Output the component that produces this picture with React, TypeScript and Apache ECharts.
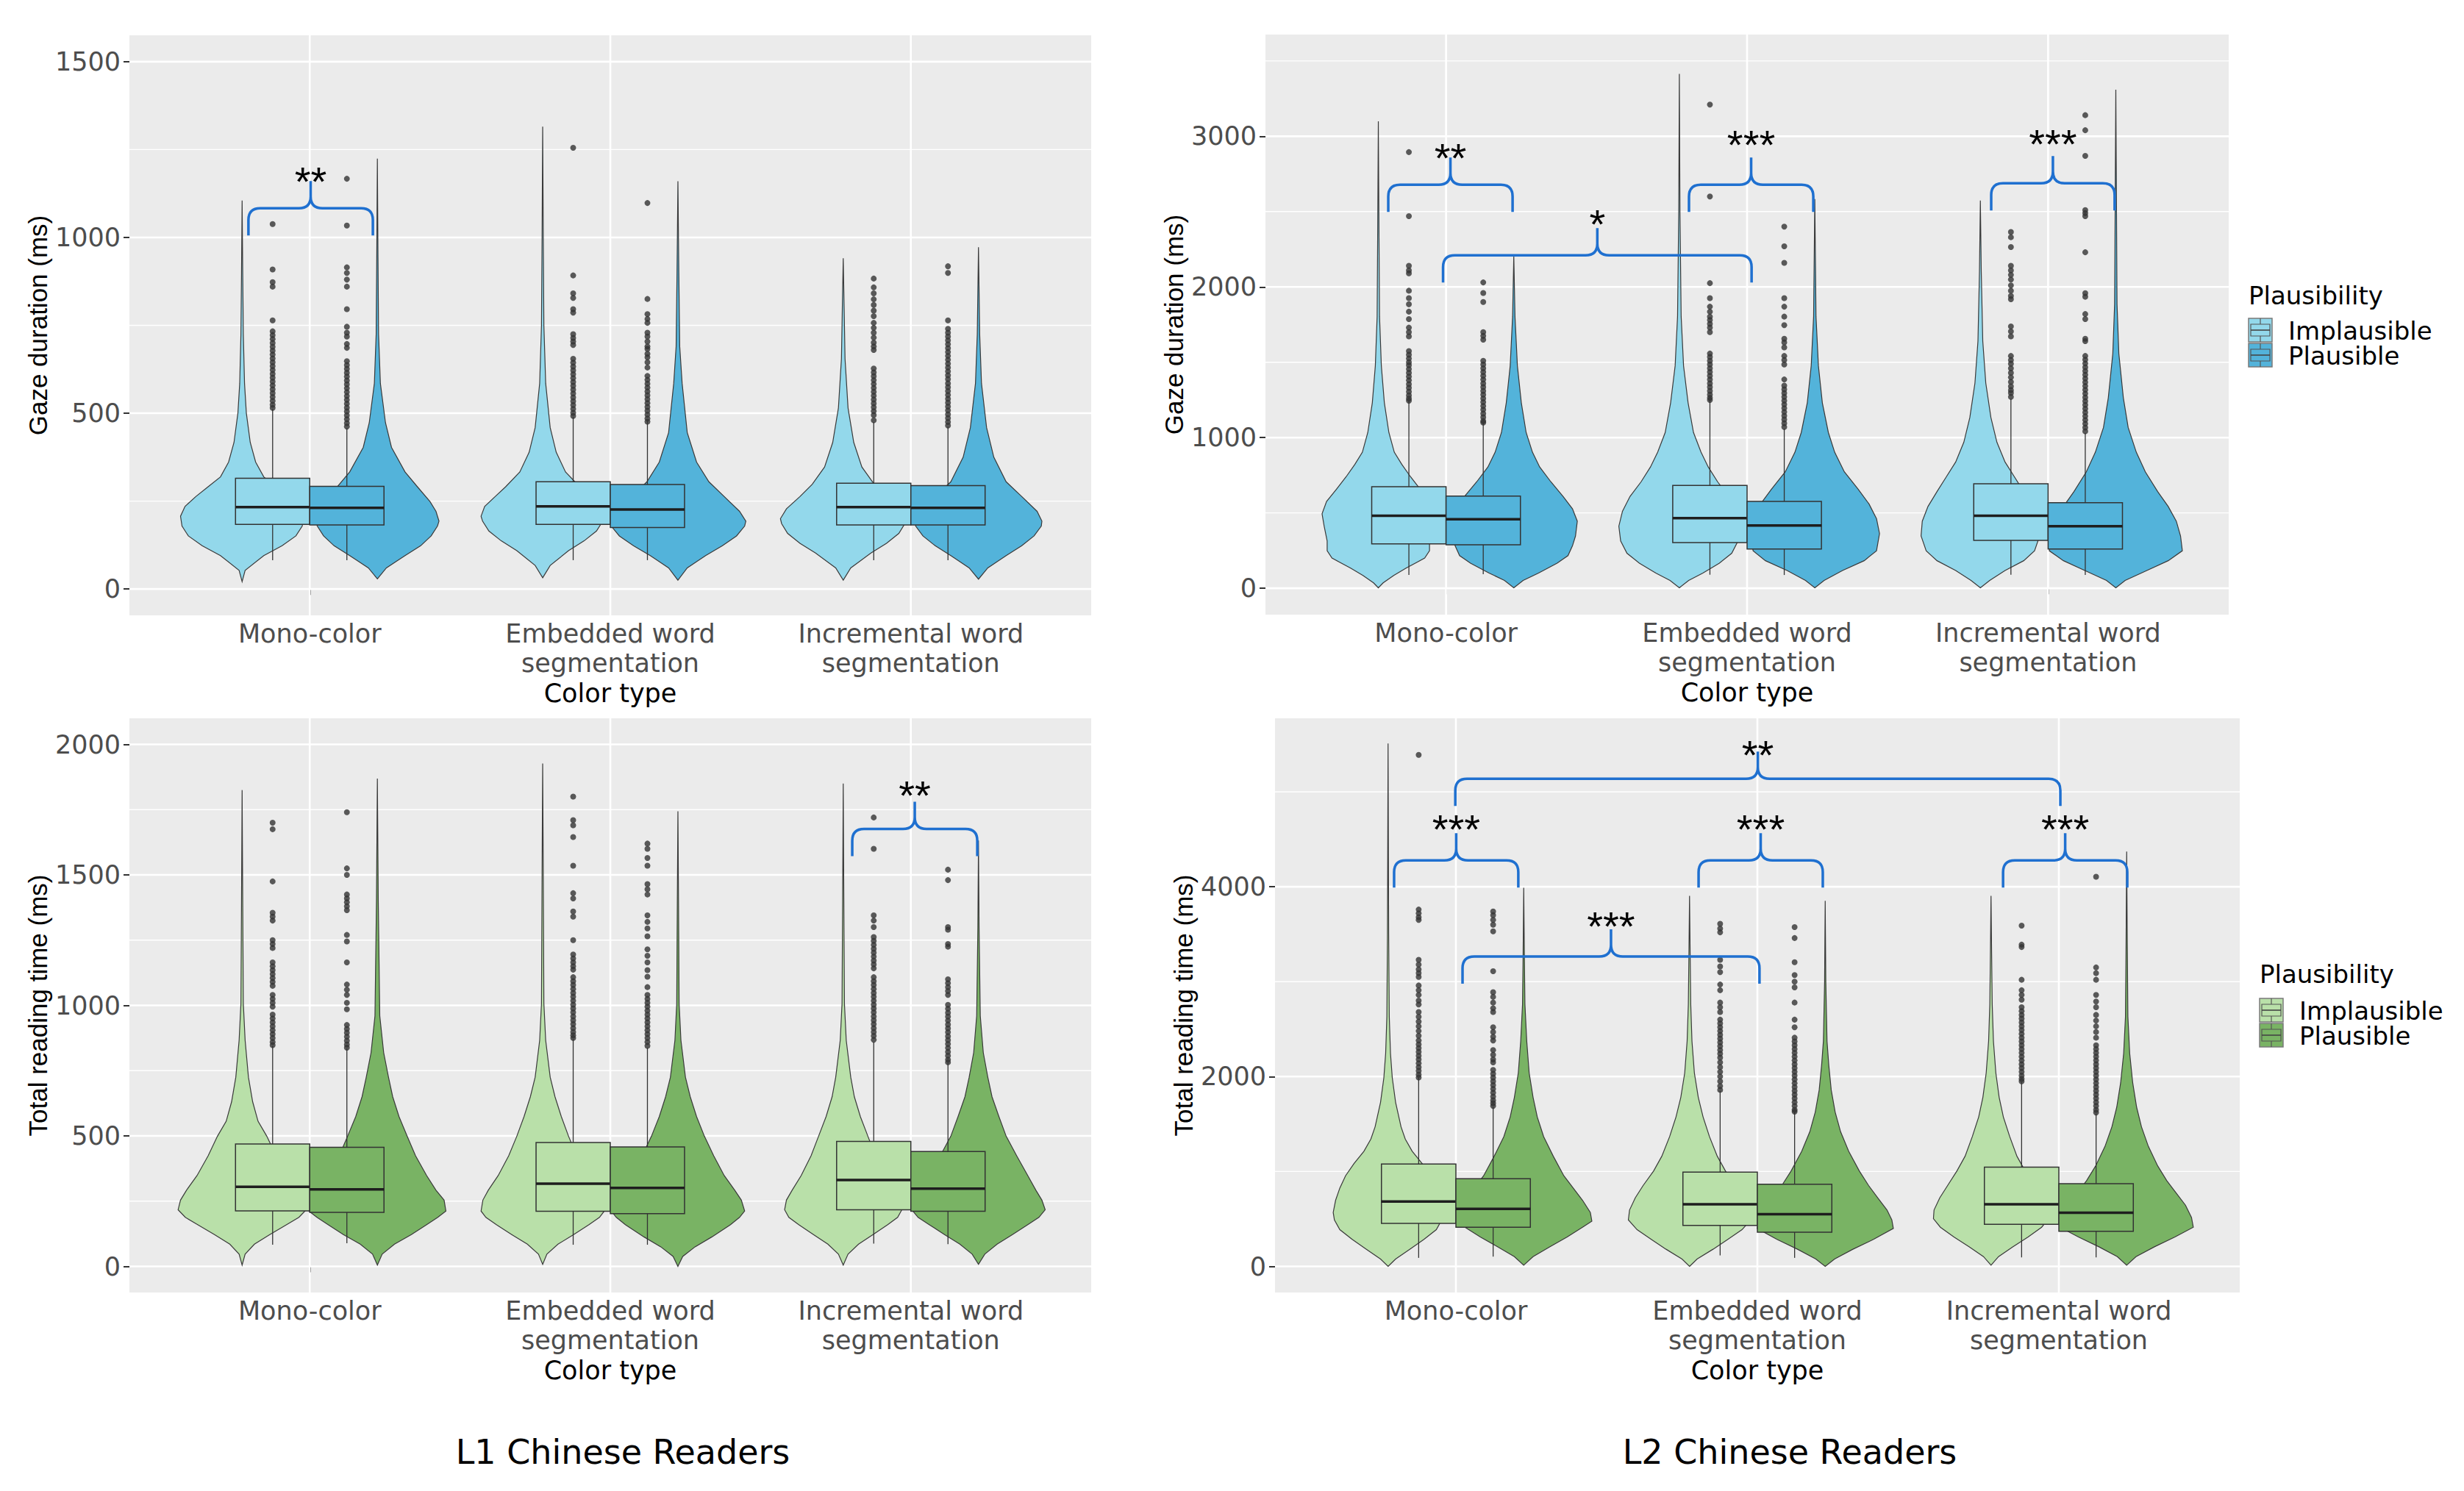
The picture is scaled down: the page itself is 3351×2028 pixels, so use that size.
import React, { useEffect, useRef } from "react";
import * as echarts from "echarts";

// ---------------- DATA ----------------
const categories = ["Mono-color", "Embedded word\nsegmentation", "Incremental word\nsegmentation"];
const plausibility = ["Implausible", "Plausible"];
const panelTitles = ["L1 Chinese Readers", "L2 Chinese Readers"];
const yTitles = ["Gaze duration (ms)", "Total reading time (ms)"];
const xTitle = "Color type";
const legendTitle = "Plausibility";

const tlTicks = [0, 500, 1000, 1500];
const tlMinor = [250, 750, 1250];
const trTicks = [0, 1000, 2000, 3000];
const trMinor = [500, 1500, 2500, 3500];
const blTicks = [0, 500, 1000, 1500, 2000];
const blMinor = [250, 750, 1250, 1750];
const brTicks = [0, 2000, 4000];
const brMinor = [1000, 3000, 5000];

// box stats per category: [lower whisker, Q1, median, Q3, upper whisker]
const tlImpBox = [[82, 184, 233, 315, 512], [82, 184, 235, 305, 490], [82, 182, 233, 301, 475]];
const tlPlaBox = [[82, 182, 231, 292, 457], [82, 175, 226, 297, 480], [82, 182, 231, 294, 462]];
const trImpBox = [[88, 295, 481, 674, 1243], [90, 303, 465, 683, 1250], [90, 318, 481, 694, 1258]];
const trPlaBox = [[93, 288, 458, 612, 1098], [88, 260, 417, 576, 1060], [88, 260, 412, 568, 1030]];
const blImpBox = [[83, 213, 305, 469, 845], [83, 211, 317, 475, 871], [87, 217, 331, 479, 860]];
const blPlaBox = [[89, 207, 295, 456, 835], [83, 202, 301, 458, 838], [85, 211, 298, 440, 780]];
const brImpBox = [[90, 454, 684, 1079, 1990], [116, 431, 655, 994, 1850], [95, 444, 655, 1045, 1945]];
const brPlaBox = [[103, 413, 606, 924, 1680], [90, 361, 550, 865, 1625], [95, 369, 565, 872, 1610]];

// outliers per category
const tlImpOut = [
  [1038, 909, 873, 860, 764, 733, 722, 711, 700, 689, 678, 667, 656, 645, 634, 623, 612, 601, 590, 579, 568, 557, 546, 535, 524, 515],
  [1255, 892, 841, 828, 796, 786, 725, 714, 704, 694, 655, 644, 633, 622, 611, 600, 589, 578, 567, 556, 545, 534, 523, 512, 501, 492],
  [883, 858, 841, 824, 808, 792, 776, 757, 743, 729, 715, 701, 690, 680, 627, 616, 605, 594, 583, 572, 561, 550, 539, 528, 517, 506, 495, 480],
];
const tlPlaOut = [
  [1167, 1034, 915, 899, 880, 860, 796, 746, 729, 718, 697, 686, 648, 637, 626, 615, 604, 593, 582, 571, 560, 549, 538, 527, 516, 505, 494, 483, 472, 462],
  [1098, 825, 782, 768, 757, 729, 718, 704, 690, 683, 669, 659, 645, 630, 606, 595, 584, 573, 562, 551, 540, 529, 518, 507, 496, 485, 476],
  [918, 899, 764, 740, 729, 718, 707, 696, 685, 674, 663, 652, 641, 630, 619, 608, 597, 585, 574, 563, 552, 541, 530, 519, 508, 497, 486, 475, 465],
];
const trImpOut = [
  [2895, 2470, 2140, 2110, 2090, 1975, 1926, 1885, 1836, 1787, 1730, 1700, 1672, 1574, 1550, 1525, 1500, 1480, 1455, 1430, 1405, 1380, 1355, 1330, 1305, 1280, 1260, 1245],
  [3210, 2600, 2025, 1926, 1869, 1836, 1803, 1780, 1755, 1730, 1700, 1558, 1535, 1510, 1485, 1460, 1435, 1410, 1385, 1360, 1335, 1310, 1285, 1264, 1250],
  [2365, 2330, 2265, 2140, 2110, 2080, 2049, 2010, 1975, 1940, 1918, 1738, 1705, 1672, 1542, 1515, 1490, 1460, 1430, 1400, 1370, 1340, 1315, 1296, 1270],
];
const trPlaOut = [
  [2030, 1960, 1900, 1700, 1675, 1650, 1510, 1485, 1460, 1435, 1410, 1385, 1360, 1335, 1310, 1285, 1260, 1235, 1210, 1185, 1160, 1135, 1110, 1100],
  [2400, 2270, 2160, 1926, 1869, 1803, 1746, 1656, 1632, 1599, 1542, 1515, 1485, 1386, 1345, 1320, 1295, 1270, 1245, 1220, 1195, 1170, 1145, 1120, 1095, 1070],
  [3140, 3040, 2870, 2510, 2490, 2470, 2230, 1959, 1935, 1820, 1787, 1656, 1640, 1542, 1517, 1492, 1467, 1442, 1417, 1392, 1367, 1342, 1317, 1292, 1267, 1242, 1217, 1192, 1167, 1142, 1117, 1092, 1067, 1042],
];
const blImpOut = [
  [1700, 1675, 1475, 1355, 1340, 1325, 1250, 1235, 1220, 1165, 1150, 1135, 1120, 1105, 1090, 1075, 1040, 1025, 1010, 995, 965, 950, 935, 920, 905, 890, 875, 860, 848],
  [1800, 1710, 1690, 1645, 1535, 1430, 1410, 1360, 1340, 1250, 1195, 1180, 1165, 1150, 1137, 1108, 1093, 1078, 1063, 1048, 1033, 1018, 1003, 988, 973, 958, 943, 928, 913, 898, 885, 875],
  [1720, 1600, 1345, 1325, 1300, 1262, 1247, 1232, 1217, 1202, 1187, 1172, 1157, 1142, 1108, 1093, 1078, 1063, 1048, 1033, 1018, 1003, 988, 973, 958, 943, 928, 913, 898, 883, 868],
];
const blPlaOut = [
  [1740, 1525, 1500, 1425, 1410, 1395, 1380, 1365, 1270, 1245, 1165, 1080, 1060, 1040, 1010, 985, 925, 910, 895, 880, 865, 850, 838],
  [1620, 1600, 1565, 1535, 1465, 1445, 1425, 1345, 1320, 1295, 1265, 1215, 1190, 1165, 1135, 1110, 1070, 1040, 1025, 1010, 995, 980, 965, 950, 935, 920, 905, 890, 875, 860, 845],
  [1520, 1480, 1300, 1290, 1235, 1225, 1100, 1085, 1070, 1055, 1040, 1002, 987, 972, 957, 942, 927, 912, 897, 882, 867, 852, 837, 822, 807, 792, 782],
];
const brImpOut = [
  [5390, 3760, 3720, 3680, 3650, 3230, 3180, 3130, 3090, 3050, 2960, 2910, 2860, 2800, 2760, 2680, 2630, 2580, 2530, 2480, 2430, 2380, 2340, 2300, 2260, 2220, 2180, 2140, 2100, 2060, 2020, 1990],
  [3610, 3560, 3520, 3230, 3160, 3100, 2970, 2910, 2780, 2730, 2680, 2600, 2560, 2520, 2480, 2440, 2400, 2360, 2320, 2280, 2240, 2200, 2150, 2100, 2050, 2000, 1950, 1900, 1860],
  [3590, 3390, 3365, 3020, 2910, 2860, 2810, 2730, 2690, 2650, 2610, 2570, 2530, 2490, 2450, 2410, 2370, 2330, 2290, 2250, 2210, 2170, 2130, 2090, 2050, 2010, 1975, 1950],
];
const brPlaOut = [
  [3740, 3700, 3650, 3600, 3530, 3110, 2890, 2840, 2780, 2720, 2680, 2520, 2470, 2420, 2380, 2280, 2230, 2180, 2150, 2070, 2030, 1990, 1950, 1910, 1870, 1830, 1790, 1750, 1720, 1690],
  [3575, 3460, 3205, 3070, 3000, 2940, 2780, 2600, 2520, 2410, 2370, 2330, 2290, 2250, 2210, 2170, 2130, 2090, 2050, 2010, 1970, 1930, 1890, 1850, 1810, 1770, 1730, 1690, 1650, 1630],
  [4105, 3150, 3090, 3020, 2860, 2790, 2730, 2650, 2590, 2530, 2470, 2410, 2330, 2290, 2250, 2210, 2170, 2130, 2090, 2050, 2010, 1970, 1930, 1890, 1850, 1810, 1770, 1730, 1690, 1650, 1620],
];

// violin profiles per category: [value, half width in category units]
const tlImpViolins = [
  [[21, 0], [53, 0.01], [95, 0.072], [123, 0.133], [151, 0.179], [179, 0.2], [207, 0.205], [235, 0.19], [263, 0.154], [291, 0.113], [319, 0.072], [361, 0.045], [417, 0.027], [501, 0.014], [585, 0.008], [725, 0.004], [900, 0.002], [1105, 0]],
  [[32, 0], [67, 0.025], [109, 0.086], [137, 0.138], [165, 0.179], [193, 0.2], [207, 0.205], [235, 0.193], [263, 0.158], [291, 0.123], [333, 0.076], [389, 0.045], [459, 0.025], [585, 0.01], [750, 0.004], [1000, 0.002], [1315, 0]],
  [[25, 0], [60, 0.025], [102, 0.092], [130, 0.144], [158, 0.185], [186, 0.205], [200, 0.209], [228, 0.189], [263, 0.144], [298, 0.103], [347, 0.062], [417, 0.035], [515, 0.016], [655, 0.006], [800, 0.003], [941, 0]],
];
const tlPlaViolins = [
  [[29, 0], [60, 0.03], [95, 0.092], [123, 0.144], [151, 0.179], [179, 0.2], [193, 0.205], [221, 0.195], [249, 0.175], [291, 0.133], [333, 0.092], [403, 0.047], [473, 0.027], [585, 0.01], [725, 0.004], [950, 0.002], [1224, 0]],
  [[25, 0], [60, 0.031], [95, 0.092], [123, 0.148], [151, 0.195], [179, 0.222], [193, 0.226], [221, 0.205], [263, 0.154], [305, 0.103], [361, 0.062], [445, 0.031], [585, 0.014], [690, 0.006], [900, 0.003], [1160, 0]],
  [[28, 0], [60, 0.031], [95, 0.092], [123, 0.144], [151, 0.185], [179, 0.209], [193, 0.211], [221, 0.195], [263, 0.144], [305, 0.092], [375, 0.051], [459, 0.027], [585, 0.01], [725, 0.004], [850, 0.002], [972, 0]],
];
const trImpViolins = [
  [[3, 0], [36, 0.016], [85, 0.051], [134, 0.092], [200, 0.154], [249, 0.17], [314, 0.17], [412, 0.18], [494, 0.187], [576, 0.172], [658, 0.139], [740, 0.107], [822, 0.078], [903, 0.053], [1034, 0.035], [1231, 0.02], [1476, 0.01], [1803, 0.004], [2400, 0.002], [3099, 0]],
  [[3, 0], [52, 0.031], [101, 0.078], [167, 0.133], [232, 0.174], [314, 0.195], [412, 0.201], [511, 0.189], [609, 0.164], [707, 0.127], [805, 0.096], [903, 0.072], [1034, 0.047], [1231, 0.029], [1476, 0.014], [1803, 0.006], [2500, 0.002], [3414, 0]],
  [[3, 0], [52, 0.031], [118, 0.082], [183, 0.144], [249, 0.18], [347, 0.197], [445, 0.193], [543, 0.174], [642, 0.144], [740, 0.113], [838, 0.082], [969, 0.055], [1133, 0.035], [1362, 0.018], [1640, 0.008], [2100, 0.003], [2574, 0]],
];
const trPlaViolins = [
  [[3, 0], [52, 0.031], [101, 0.082], [167, 0.144], [216, 0.18], [282, 0.195], [347, 0.205], [445, 0.211], [527, 0.195], [609, 0.164], [707, 0.123], [805, 0.086], [903, 0.062], [1034, 0.041], [1231, 0.025], [1476, 0.012], [1803, 0.004], [2208, 0]],
  [[3, 0], [52, 0.031], [118, 0.092], [183, 0.164], [249, 0.205], [363, 0.215], [462, 0.205], [560, 0.18], [658, 0.144], [773, 0.098], [903, 0.066], [1034, 0.045], [1231, 0.025], [1476, 0.012], [1803, 0.004], [2583, 0]],
  [[3, 0], [52, 0.031], [118, 0.103], [183, 0.174], [249, 0.221], [347, 0.215], [445, 0.201], [543, 0.174], [642, 0.139], [773, 0.098], [903, 0.068], [1067, 0.041], [1264, 0.025], [1558, 0.01], [1885, 0.004], [2600, 0.002], [3309, 0]],
];
const blImpViolins = [
  [[5, 0], [47, 0.01], [85, 0.041], [122, 0.092], [160, 0.148], [188, 0.189], [217, 0.213], [254, 0.205], [292, 0.185], [348, 0.15], [424, 0.113], [499, 0.082], [556, 0.053], [631, 0.035], [725, 0.021], [866, 0.01], [1008, 0.004], [1400, 0.002], [1825, 0]],
  [[8, 0], [47, 0.014], [85, 0.051], [122, 0.103], [160, 0.154], [188, 0.189], [212, 0.205], [254, 0.199], [292, 0.181], [348, 0.148], [424, 0.113], [499, 0.086], [574, 0.062], [650, 0.041], [725, 0.025], [866, 0.01], [1008, 0.004], [1500, 0.002], [1927, 0]],
  [[5, 0], [47, 0.016], [85, 0.051], [122, 0.099], [160, 0.148], [188, 0.181], [217, 0.195], [254, 0.189], [292, 0.17], [348, 0.14], [424, 0.107], [499, 0.082], [574, 0.057], [650, 0.037], [725, 0.025], [866, 0.01], [1008, 0.004], [1400, 0.002], [1850, 0]],
];
const blPlaViolins = [
  [[5, 0], [47, 0.016], [85, 0.057], [122, 0.113], [160, 0.164], [188, 0.201], [212, 0.228], [254, 0.222], [292, 0.195], [348, 0.164], [424, 0.127], [499, 0.099], [574, 0.072], [650, 0.051], [725, 0.037], [819, 0.021], [960, 0.008], [1400, 0.003], [1869, 0]],
  [[0, 0], [38, 0.016], [75, 0.057], [113, 0.113], [160, 0.175], [188, 0.205], [212, 0.222], [254, 0.211], [292, 0.189], [348, 0.154], [424, 0.119], [499, 0.088], [574, 0.062], [650, 0.041], [725, 0.025], [866, 0.01], [1008, 0.004], [1400, 0.002], [1744, 0]],
  [[8, 0], [47, 0.021], [85, 0.062], [122, 0.113], [160, 0.164], [188, 0.201], [217, 0.222], [254, 0.211], [292, 0.191], [348, 0.164], [424, 0.127], [499, 0.092], [574, 0.068], [650, 0.045], [725, 0.031], [819, 0.016], [960, 0.006], [1300, 0.002], [1632, 0]],
];
const brImpViolins = [
  [[0, 0], [77, 0.025], [181, 0.072], [284, 0.119], [387, 0.16], [490, 0.178], [568, 0.182], [697, 0.174], [826, 0.16], [955, 0.141], [1084, 0.113], [1213, 0.08], [1342, 0.057], [1471, 0.043], [1729, 0.025], [1987, 0.014], [2245, 0.008], [2632, 0.004], [3500, 0.002], [5510, 0]],
  [[0, 0], [77, 0.025], [181, 0.078], [284, 0.127], [387, 0.174], [490, 0.203], [594, 0.199], [723, 0.18], [852, 0.154], [1006, 0.119], [1161, 0.092], [1368, 0.066], [1574, 0.045], [1781, 0.029], [2039, 0.016], [2374, 0.008], [2761, 0.004], [3300, 0.002], [3905, 0]],
  [[13, 0], [103, 0.025], [206, 0.072], [310, 0.123], [413, 0.168], [503, 0.191], [594, 0.189], [723, 0.17], [852, 0.144], [1006, 0.113], [1161, 0.086], [1368, 0.062], [1574, 0.041], [1781, 0.027], [2039, 0.016], [2374, 0.008], [2761, 0.004], [3300, 0.002], [3905, 0]],
];
const brPlaViolins = [
  [[13, 0], [103, 0.031], [206, 0.086], [310, 0.144], [413, 0.195], [477, 0.226], [568, 0.221], [697, 0.195], [826, 0.164], [955, 0.133], [1161, 0.098], [1368, 0.066], [1574, 0.045], [1781, 0.031], [2039, 0.018], [2374, 0.01], [2761, 0.004], [3300, 0.002], [3990, 0]],
  [[0, 0], [77, 0.031], [181, 0.092], [284, 0.16], [400, 0.226], [490, 0.221], [594, 0.205], [723, 0.174], [852, 0.144], [1006, 0.113], [1213, 0.078], [1419, 0.051], [1626, 0.033], [1858, 0.02], [2116, 0.012], [2374, 0.006], [3000, 0.002], [3852, 0]],
  [[13, 0], [103, 0.031], [206, 0.092], [310, 0.16], [413, 0.221], [516, 0.215], [645, 0.195], [774, 0.164], [903, 0.133], [1058, 0.103], [1264, 0.072], [1471, 0.049], [1677, 0.033], [1935, 0.02], [2245, 0.01], [2632, 0.004], [3400, 0.002], [4371, 0]],
];

// significance braces: [x start, x end, brace level, label centre value]
const tlBraces = [[0.796, 1.21, 1083, 1188]];
const tlBraceLabels = ["**"];
const trBraces = [[0.808, 1.221, 2678, 2922], [0.99, 2.015, 2210, 2483], [1.807, 2.22, 2678, 3007], [2.811, 3.221, 2688, 3014]];
const trBraceLabels = ["**", "*", "***", "***"];
const blBraces = [[2.805, 3.221, 1676, 1841]];
const blBraceLabels = ["**"];
const brBraces = [[0.998, 3.005, 5137, 5493], [0.795, 1.207, 4278, 4712], [1.805, 2.217, 4278, 4712], [2.815, 3.227, 4278, 4712], [1.022, 2.007, 3265, 3690]];
const brBraceLabels = ["**", "***", "***", "***", "***"];

// ---------------- STYLE / LAYOUT ----------------
const FONT = '"DejaVu Sans", sans-serif';
const ARIAL = '"Liberation Sans", Arial, sans-serif';
const blueColors = ["#93D8EB", "#53B3DA"];
const greenColors = ["#B9E0A9", "#79B364"];
const BRACE = "#1F70D0";

const panels: any[] = [
  { left: 176, top: 48, width: 1308, height: 789, yMin: -75, yMax: 1575, ticks: tlTicks, minor: tlMinor, yName: yTitles[0], nameGap: 90, colors: blueColors, boxes: [tlImpBox, tlPlaBox], violins: [tlImpViolins, tlPlaViolins], outliers: [tlImpOut, tlPlaOut], braces: tlBraces, braceLabels: tlBraceLabels },
  { left: 1721, top: 47, width: 1310, height: 789, yMin: -175, yMax: 3675, ticks: trTicks, minor: trMinor, yName: yTitles[0], nameGap: 90, colors: blueColors, boxes: [trImpBox, trPlaBox], violins: [trImpViolins, trPlaViolins], outliers: [trImpOut, trPlaOut], braces: trBraces, braceLabels: trBraceLabels },
  { left: 176, top: 977, width: 1308, height: 781, yMin: -100, yMax: 2100, ticks: blTicks, minor: blMinor, yName: yTitles[1], nameGap: 90, colors: greenColors, boxes: [blImpBox, blPlaBox], violins: [blImpViolins, blPlaViolins], outliers: [blImpOut, blPlaOut], braces: blBraces, braceLabels: blBraceLabels },
  { left: 1734, top: 977, width: 1312, height: 781, yMin: -275, yMax: 5775, ticks: brTicks, minor: brMinor, yName: yTitles[1], nameGap: 98, colors: greenColors, boxes: [brImpBox, brPlaBox], violins: [brImpViolins, brPlaViolins], outliers: [brImpOut, brPlaOut], braces: brBraces, braceLabels: brBraceLabels },
];

const VIOLIN_OFF = 0.225;
const BOX_OFF = 0.1235;
const BOX_HALF = 0.1235;

function legendElements(x: number, yTitle: number, yKey: number, colors: string[]) {
  const els: any[] = [
    { type: "text", x, y: yTitle, style: { text: legendTitle, fontSize: 34, fontFamily: FONT, fill: "#000", align: "left", verticalAlign: "middle" } },
  ];
  colors.forEach((c, g) => {
    const ky = yKey + g * 34;
    els.push({ type: "rect", shape: { x, y: ky, width: 32, height: 32 }, style: { fill: c, stroke: "#7a7a7a", lineWidth: 1.5 } });
    els.push({ type: "rect", shape: { x: x + 3, y: ky + 8, width: 26, height: 16 }, style: { fill: c, stroke: "#555", lineWidth: 1.2 } });
    els.push({ type: "line", shape: { x1: x + 3, y1: ky + 16, x2: x + 29, y2: ky + 16 }, style: { stroke: "#444", lineWidth: 1.6 } });
    els.push({ type: "line", shape: { x1: x + 16, y1: ky, x2: x + 16, y2: ky + 8 }, style: { stroke: "#555", lineWidth: 1.2 } });
    els.push({ type: "line", shape: { x1: x + 16, y1: ky + 24, x2: x + 16, y2: ky + 32 }, style: { stroke: "#555", lineWidth: 1.2 } });
    els.push({ type: "text", x: x + 54, y: ky + 17, style: { text: plausibility[g], fontSize: 34, fontFamily: FONT, fill: "#000", align: "left", verticalAlign: "middle" } });
  });
  return els;
}

function buildOption(): any {
  const grid: any[] = [];
  const xAxis: any[] = [];
  const yAxis: any[] = [];
  const series: any[] = [];

  panels.forEach((p, i) => {
    grid.push({ left: p.left, top: p.top, width: p.width, height: p.height, show: true, backgroundColor: "#EBEBEB", borderWidth: 0 });
    xAxis.push({
      type: "value", gridIndex: i, min: 0.4, max: 3.6,
      axisLine: { show: false }, splitLine: { show: false },
      axisTick: { show: true, customValues: [1, 2, 3], length: 8, lineStyle: { color: "#333", width: 2 } },
      axisLabel: { customValues: [1, 2, 3], formatter: (v: number) => categories[Math.round(v) - 1] || "", fontFamily: FONT, fontSize: 35, color: "#4D4D4D", lineHeight: 40, margin: 5 },
      name: xTitle, nameLocation: "middle", nameGap: 76,
      nameTextStyle: { fontFamily: FONT, fontSize: 35, color: "#000", lineHeight: 40 },
    });
    yAxis.push({
      type: "value", gridIndex: i, min: p.yMin, max: p.yMax,
      axisLine: { show: false }, splitLine: { show: false },
      axisTick: { show: true, customValues: p.ticks, length: 8, lineStyle: { color: "#333", width: 2 } },
      axisLabel: { customValues: p.ticks, formatter: (v: number) => String(Math.round(v)), fontFamily: FONT, fontSize: 35, color: "#4D4D4D", margin: 12 },
      name: p.yName, nameLocation: "middle", nameRotate: 90, nameGap: p.nameGap,
      nameTextStyle: { fontFamily: ARIAL, fontSize: 35, color: "#000", lineHeight: 40 },
    });

    // grid lines
    const gridData: number[][] = [];
    p.ticks.forEach((t: number) => gridData.push([0, t]));
    p.minor.forEach((t: number) => gridData.push([1, t]));
    [1, 2, 3].forEach((c) => gridData.push([2, c]));
    series.push({
      type: "custom", xAxisIndex: i, yAxisIndex: i, z: 1, silent: true, data: gridData,
      renderItem: (params: any, api: any) => {
        const kind = api.value(0);
        const v = api.value(1);
        let a: number[], b: number[];
        if (kind === 2) { a = api.coord([v, p.yMin]); b = api.coord([v, p.yMax]); }
        else { a = api.coord([0.4, v]); b = api.coord([3.6, v]); }
        return { type: "line", shape: { x1: a[0], y1: a[1], x2: b[0], y2: b[1] }, style: { stroke: "#FFFFFF", lineWidth: kind === 1 ? 1.4 : 2.6 } };
      },
    });

    // violins
    [0, 1].forEach((g) => {
      const profs = p.violins[g];
      const off = g === 0 ? -VIOLIN_OFF : VIOLIN_OFF;
      series.push({
        type: "custom", xAxisIndex: i, yAxisIndex: i, z: 2, silent: true,
        data: [[1, 0], [2, 0], [3, 0]],
        renderItem: (params: any, api: any) => {
          const c = api.value(0) + off;
          const prof = profs[params.dataIndex];
          const right = prof.map((d: number[]) => api.coord([c + d[1], d[0]]));
          const left = prof.slice().reverse().map((d: number[]) => api.coord([c - d[1], d[0]]));
          return { type: "polygon", shape: { points: right.concat(left) }, style: { fill: p.colors[g], stroke: "#3a3a3a", lineWidth: 1.2 } };
        },
      });
    });

    // boxplots
    [0, 1].forEach((g) => {
      const off = g === 0 ? -BOX_OFF : BOX_OFF;
      const data = p.boxes[g].map((b: number[], k: number) => [k + 1 + off, b[0], b[1], b[2], b[3], b[4]]);
      series.push({
        type: "custom", xAxisIndex: i, yAxisIndex: i, z: 3, silent: true, data,
        renderItem: (params: any, api: any) => {
          const x = api.value(0);
          const lo = api.coord([x, api.value(1)]);
          const q1 = api.coord([x, api.value(2)]);
          const md = api.coord([x, api.value(3)]);
          const q3 = api.coord([x, api.value(4)]);
          const hi = api.coord([x, api.value(5)]);
          const l = api.coord([x - BOX_HALF, 0])[0];
          const r = api.coord([x + BOX_HALF, 0])[0];
          return {
            type: "group",
            children: [
              { type: "line", shape: { x1: lo[0], y1: lo[1], x2: q1[0], y2: q1[1] }, style: { stroke: "#333", lineWidth: 1.3 } },
              { type: "line", shape: { x1: q3[0], y1: q3[1], x2: hi[0], y2: hi[1] }, style: { stroke: "#333", lineWidth: 1.3 } },
              { type: "rect", shape: { x: l, y: q3[1], width: r - l, height: q1[1] - q3[1] }, style: { fill: p.colors[g], stroke: "#333", lineWidth: 1.5 } },
              { type: "line", shape: { x1: l, y1: md[1], x2: r, y2: md[1] }, style: { stroke: "#1e1e1e", lineWidth: 3.5 } },
            ],
          };
        },
      });
    });

    // outliers
    [0, 1].forEach((g) => {
      const off = g === 0 ? -BOX_OFF : BOX_OFF;
      const data: number[][] = [];
      p.outliers[g].forEach((list: number[], k: number) => list.forEach((v) => data.push([k + 1 + off, v])));
      series.push({
        type: "scatter", name: plausibility[g], xAxisIndex: i, yAxisIndex: i, z: 4, silent: true,
        symbol: "circle", symbolSize: 8, itemStyle: { color: "#333333" }, data,
      });
    });

    // braces
    series.push({
      type: "custom", xAxisIndex: i, yAxisIndex: i, z: 5, silent: true, data: p.braces,
      renderItem: (params: any, api: any) => {
        const x1 = api.value(0), x2 = api.value(1), lvl = api.value(2), tv = api.value(3);
        const a = api.coord([x1, lvl]);
        const b = api.coord([x2, lvl]);
        const t = api.coord([(x1 + x2) / 2, tv]);
        const y = a[1];
        const xm = (a[0] + b[0]) / 2;
        const D = 37, R = 37, r = 16;
        const d =
          `M${a[0]} ${y + D} L${a[0]} ${y + r} Q${a[0]} ${y} ${a[0] + r} ${y} L${xm - r} ${y} Q${xm} ${y} ${xm} ${y - r} L${xm} ${y - R} ` +
          `M${b[0]} ${y + D} L${b[0]} ${y + r} Q${b[0]} ${y} ${b[0] - r} ${y} L${xm + r} ${y} Q${xm} ${y} ${xm} ${y - r}`;
        return {
          type: "group",
          children: [
            { type: "path", shape: { pathData: d }, style: { stroke: BRACE, lineWidth: 3.5, fill: null } },
            { type: "text", x: t[0], y: t[1] + 13, style: { text: p.braceLabels[params.dataIndex], fontSize: 56, fontFamily: ARIAL, fill: "#000", align: "center", verticalAlign: "middle" } },
          ],
        };
      },
    });
  });

  const graphic: any[] = [
    ...legendElements(3058, 402, 433, blueColors),
    ...legendElements(3073, 1325, 1358, greenColors),
    { type: "text", x: 847, y: 1975, style: { text: panelTitles[0], fontSize: 46, fontFamily: FONT, fill: "#000", align: "center", verticalAlign: "middle" } },
    { type: "text", x: 2434, y: 1975, style: { text: panelTitles[1], fontSize: 46, fontFamily: FONT, fill: "#000", align: "center", verticalAlign: "middle" } },
  ];

  return { animation: false, backgroundColor: "#FFFFFF", grid, xAxis, yAxis, series, graphic };
}

export default function App() {
  const ref = useRef<HTMLDivElement>(null);
  useEffect(() => {
    if (!ref.current) return;
    const chart = echarts.init(ref.current, null, { renderer: "svg", width: 3351, height: 2028 });
    chart.setOption(buildOption());
    return () => chart.dispose();
  }, []);
  return <div ref={ref} style={{ position: "fixed", left: 0, top: 0, width: "3351px", height: "2028px", background: "#fff" }} />;
}
